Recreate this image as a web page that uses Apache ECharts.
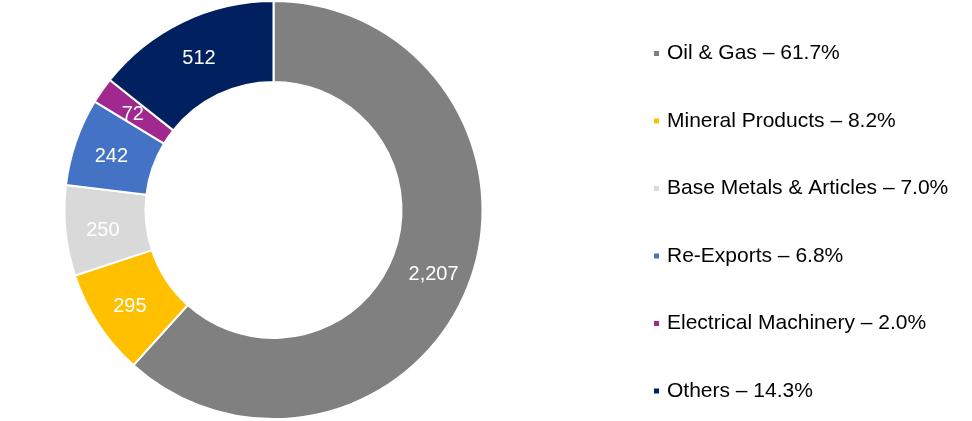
<!DOCTYPE html>
<html>
<head>
<meta charset="utf-8">
<script src="https://cdn.jsdelivr.net/npm/echarts@6/dist/echarts.min.js"></script>
<style>
html,body{margin:0;padding:0;background:#fff;}
#c{width:972px;height:421px;}
</style>
</head>
<body>
<div id="c"></div>
<script>
const categories = ["Oil & Gas", "Mineral Products", "Base Metals & Articles", "Re-Exports", "Electrical Machinery", "Others"];
const values = [2207, 295, 250, 242, 72, 512];
const colors = ["#7F807F", "#FFC000", "#D9D9D9", "#4472C4", "#A0288F", "#002060"];

const total = values.reduce((a, b) => a + b, 0);
const pctMap = {};
categories.forEach((c, i) => { pctMap[c] = (values[i] / total * 100).toFixed(1); });

const chart = echarts.init(document.getElementById('c'), null, {renderer: 'canvas'});
chart.setOption({
  animation: false,
  backgroundColor: '#fff',
  legend: {
    orient: 'vertical',
    left: 652,
    top: 43,
    padding: 0,
    icon: 'rect',
    itemWidth: 7,
    itemHeight: 7,
    itemGap: 46.5,
    selectedMode: false,
    textStyle: {
      fontFamily: 'Liberation Sans, Arial, sans-serif',
      fontSize: 21,
      lineHeight: 21,
      color: '#000',
      padding: [0, 0, 0, 2]
    },
    formatter: function (name) { return name + ' \u2013 ' + pctMap[name] + '%'; },
    data: categories
  },
  series: [{
    type: 'pie',
    center: [273.5, 210],
    radius: [128, 209],
    startAngle: 90,
    clockwise: true,
    avoidLabelOverlap: false,
    label: {
      show: true,
      position: 'inside',
      color: '#fff',
      fontFamily: 'Liberation Sans, Arial, sans-serif',
      fontSize: 20,
      offset: [0, 3],
      formatter: function (p) { return p.value.toLocaleString('en-US'); }
    },
    labelLine: {show: false},
    itemStyle: {borderColor: '#fff', borderWidth: 2},
    emphasis: {disabled: true},
    data: categories.map((c, i) => ({name: c, value: values[i], itemStyle: {color: colors[i]}}))
  }]
});
</script>
</body>
</html>
